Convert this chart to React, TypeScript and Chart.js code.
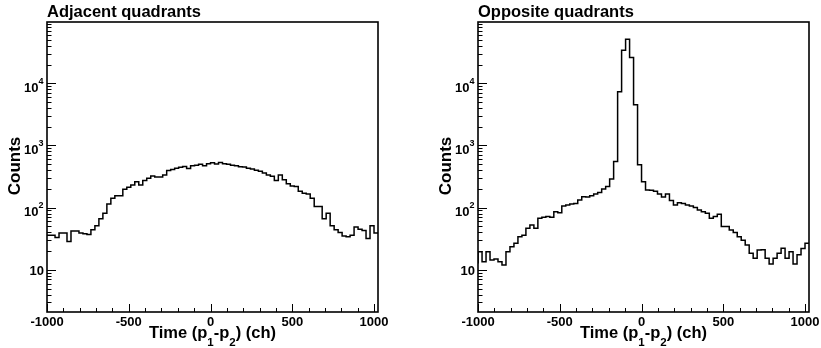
import React, { useEffect, useRef } from "react";
import { Chart, registerables } from "chart.js";

Chart.register(...registerables);

// ---- data -------------------------------------------------------------
// histogram: 84 bins spanning [-1024, 1024]; the axis shows [-1000, 1024]
const BIN_START = -1024;
const BIN_END = 1024;
const X_MIN = -1000;
const X_MAX = 1024;
const Y_MIN = 2.1;
const Y_MAX = 96600;
const X_TICK_LABELS = [-1000, -500, 0, 500, 1000];
const Y_TICK_EXPONENTS = [1, 2, 3, 4];

const adjacentCounts = [
  36, 36, 36, 33, 39, 39, 28.5, 42, 42, 39,
  38, 37, 44, 51, 66, 81, 115, 142, 155, 155,
  198, 213, 232, 262, 232, 272, 297, 323, 310, 312,
  336, 394, 410, 430, 445, 460, 425, 470, 480, 500,
  470, 510, 525, 505, 530, 510, 500, 480, 470, 455,
  450, 430, 420, 400, 385, 360, 335, 320, 272, 335,
  280, 243, 222, 218, 183, 170, 166, 142, 104, 104,
  66, 81, 51, 44, 40, 35, 34, 36, 49, 45,
  43, 32, 51, 39,
];

const oppositeCounts = [
  13, 19.6, 13.5, 19.6, 14.4, 15, 13.5, 12, 19.6, 23.6,
  26.8, 34, 36, 46.7, 52.7, 46.7, 67.6, 70, 72, 70,
  86, 83, 106, 110, 114, 117, 133, 150, 148, 155,
  165, 175, 200, 218, 290, 550, 7300, 34000, 51000, 26000,
  4500, 490, 262, 193, 190, 183, 166, 148, 166, 130,
  110, 120, 117, 110, 106, 101, 92, 86, 81, 67.6,
  72, 78, 49.6, 49.6, 43.8, 40, 34, 30, 25, 18.5,
  15.4, 20.9, 21, 15.4, 12.4, 15.4, 18.5, 22.2, 15.4, 19.6,
  12.4, 17.5, 22, 26.8,
];

const FONT = '"Liberation Sans", Arial, Helvetica, sans-serif';

function histPoints(counts: number[]) {
  const w = (BIN_END - BIN_START) / counts.length;
  const pts = counts.map((c, i) => ({ x: BIN_START + i * w, y: c }));
  pts.push({ x: BIN_END, y: counts[counts.length - 1] });
  return pts;
}

const rootStyle = {
  id: "rootStyle",
  afterDraw(chart: any, _args: any, opts: any) {
    const { ctx, chartArea: a, scales } = chart;
    const xs = scales.x;
    const ys = scales.y;
    ctx.save();

    // tick marks (inside the frame, ROOT style)
    ctx.strokeStyle = "#000";
    ctx.lineWidth = 1;
    ctx.beginPath();
    for (let v = -1000; v <= 1000; v += 100) {
      const px = Math.round(xs.getPixelForValue(v)) + 0.5;
      const len = v % 500 === 0 ? 8 : 4;
      ctx.moveTo(px, a.bottom);
      ctx.lineTo(px, a.bottom - len);
    }
    for (let d = 0; d <= 5; d++) {
      for (let m = 1; m <= 9; m++) {
        const v = m * Math.pow(10, d);
        if (v < Y_MIN || v > Y_MAX) continue;
        const py = Math.round(ys.getPixelForValue(v)) + 0.5;
        const len = m === 1 ? 9 : 4.5;
        ctx.moveTo(a.left, py);
        ctx.lineTo(a.left + len, py);
      }
    }
    ctx.stroke();

    // frame
    ctx.lineWidth = 1.6;
    ctx.strokeRect(a.left, a.top, a.right - a.left, a.bottom - a.top);

    ctx.fillStyle = "#000";
    // x tick labels
    ctx.font = `bold 13px ${FONT}`;
    ctx.textAlign = "center";
    ctx.textBaseline = "alphabetic";
    for (const v of X_TICK_LABELS) {
      const px = xs.getPixelForValue(v);
      ctx.fillText(String(v), px, a.bottom + 14);
    }

    // y tick labels
    for (const e of Y_TICK_EXPONENTS) {
      const py = ys.getPixelForValue(Math.pow(10, e));
      if (e === 1) {
        ctx.font = `bold 13px ${FONT}`;
        ctx.textAlign = "right";
        ctx.fillText("10", a.left - 3, py + 4.7);
      } else {
        ctx.font = `bold 9px ${FONT}`;
        ctx.textAlign = "right";
        const sup = String(e);
        const supW = ctx.measureText(sup).width;
        const supRight = a.left - 3.5;
        ctx.fillText(sup, supRight, py + 0.5);
        ctx.font = `bold 13px ${FONT}`;
        ctx.fillText("10", supRight - supW, py + 8.4);
      }
    }

    // y title
    ctx.save();
    ctx.translate(a.left - 26.6, (a.top + a.bottom) / 2 - 1);
    ctx.rotate(-Math.PI / 2);
    ctx.font = `bold 17px ${FONT}`;
    ctx.textAlign = "center";
    ctx.fillText("Counts", 0, 0);
    ctx.restore();

    // title
    ctx.font = `bold 16.5px ${FONT}`;
    ctx.textAlign = "left";
    ctx.fillText(opts.title, a.left, a.top - 4.8);

    // x title with subscripts
    const parts: [string, boolean][] = [
      ["Time (p", false],
      ["1", true],
      ["-p", false],
      ["2", true],
      [") (ch)", false],
    ];
    const mainFont = `bold 16.5px ${FONT}`;
    const subFont = `bold 11.5px ${FONT}`;
    let total = 0;
    const widths = parts.map(([t, sub]) => {
      ctx.font = sub ? subFont : mainFont;
      const w = ctx.measureText(t).width;
      total += w;
      return w;
    });
    let x = (a.left + a.right) / 2 - total / 2;
    const base = a.bottom + 26;
    ctx.textAlign = "left";
    parts.forEach(([t, sub], i) => {
      ctx.font = sub ? subFont : mainFont;
      ctx.fillText(t, x, sub ? base + 8 : base);
      x += widths[i];
    });

    ctx.restore();
  },
};

function HistPanel(props: {
  title: string;
  counts: number[];
  left: number;
  width: number;
  padding: { left: number; right: number; top: number; bottom: number };
}) {
  const ref = useRef<HTMLCanvasElement | null>(null);
  useEffect(() => {
    const canvas = ref.current;
    if (!canvas) return;
    const chart = new Chart(canvas, {
      type: "line",
      data: {
        datasets: [
          {
            data: histPoints(props.counts),
            stepped: "before",
            borderColor: "#000",
            borderWidth: 1.5,
            pointRadius: 0,
            fill: false,
            tension: 0,
          } as any,
        ],
      },
      options: {
        responsive: false,
        animation: false,
        devicePixelRatio: 1,
        events: [],
        layout: { padding: props.padding },
        plugins: {
          legend: { display: false },
          title: { display: false },
          tooltip: { enabled: false },
          rootStyle: { title: props.title },
        } as any,
        scales: {
          x: { type: "linear", min: X_MIN, max: X_MAX, display: false },
          y: { type: "logarithmic", min: Y_MIN, max: Y_MAX, display: false },
        },
      },
      plugins: [rootStyle],
    });
    return () => chart.destroy();
  }, []);
  return (
    <canvas
      ref={ref}
      width={props.width}
      height={348}
      style={{
        position: "absolute",
        left: props.left,
        top: 0,
        width: props.width,
        height: 348,
      }}
    />
  );
}

export default function App() {
  return (
    <div
      style={{
        position: "fixed",
        left: 0,
        top: 0,
        width: 821,
        height: 348,
        background: "#fff",
      }}
    >
      <HistPanel
        title="Adjacent quadrants"
        counts={adjacentCounts}
        left={0}
        width={410}
        padding={{ left: 47, right: 32, top: 22, bottom: 36 }}
      />
      <HistPanel
        title="Opposite quadrants"
        counts={oppositeCounts}
        left={410}
        width={411}
        padding={{ left: 68, right: 12, top: 22, bottom: 36 }}
      />
    </div>
  );
}
